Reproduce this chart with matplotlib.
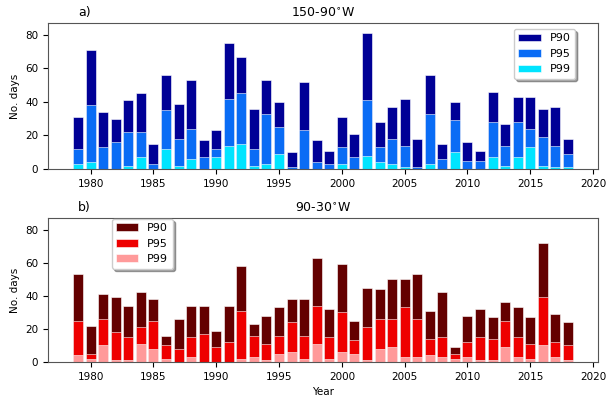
import matplotlib.pyplot as plt
import numpy as np

years = np.arange(1979, 2019)

# panel a) 150-90W
a_p90 = [31, 71, 34, 30, 41, 45, 15, 56, 39, 53, 17, 23, 75, 67, 36, 53, 40, 10, 52, 17,
         11, 31, 21, 81, 28, 37, 42, 18, 56, 15, 40, 16, 11, 46, 27, 43, 43, 36, 37, 18]
a_p95 = [12, 38, 13, 16, 22, 22, 3, 35, 18, 24, 7, 12, 42, 45, 12, 33, 25, 1, 23, 4,
         3, 13, 7, 41, 13, 18, 14, 1, 33, 6, 29, 5, 5, 28, 14, 28, 24, 19, 14, 9]
a_p99 = [3, 4, 0, 0, 2, 7, 0, 12, 2, 6, 0, 7, 14, 15, 2, 3, 9, 0, 0, 0,
         0, 3, 0, 8, 4, 3, 1, 0, 3, 0, 10, 0, 0, 7, 2, 7, 13, 2, 1, 1]

# panel b) 90-30W
b_p90 = [53, 22, 41, 39, 34, 42, 38, 16, 26, 34, 34, 19, 34, 58, 23, 28, 33, 38, 38, 63,
         32, 59, 25, 45, 44, 50, 50, 53, 31, 42, 9, 28, 32, 27, 36, 33, 27, 72, 29, 24]
b_p95 = [25, 5, 26, 18, 15, 21, 25, 10, 8, 15, 17, 9, 12, 31, 16, 11, 16, 24, 16, 34,
         15, 30, 13, 21, 26, 26, 33, 26, 14, 15, 5, 12, 15, 14, 25, 15, 11, 39, 12, 10]
b_p99 = [4, 2, 10, 1, 1, 11, 8, 2, 0, 3, 0, 0, 0, 2, 3, 1, 5, 6, 2, 11,
         2, 6, 5, 1, 8, 9, 3, 3, 4, 3, 2, 3, 1, 1, 9, 3, 2, 10, 3, 1]

plt.rcParams['font.size'] = 7.5

fig = plt.figure(figsize=(6.08, 3.97), dpi=100)
ax1 = fig.add_axes([48/608, 1 - 169/397, 550/608, 146/397])
ax2 = fig.add_axes([48/608, 1 - 362/397, 550/608, 144/397])

def draw(ax, p90, p95, p99, colors, title, tag):
    ax.bar(years, p90, 0.8, color=colors[0], edgecolor='white', linewidth=0.4, label='P90')
    ax.bar(years, p95, 0.8, color=colors[1], edgecolor='white', linewidth=0.4, label='P95')
    ax.bar(years, p99, 0.8, color=colors[2], edgecolor='white', linewidth=0.4, label='P99')
    ax.set_ylim(0, 87)
    ax.set_yticks([0, 20, 40, 60, 80])
    ax.set_xticks(range(1980, 2021, 5))
    ax.set_ylabel('No. days')
    ax.set_title(title, fontsize=9, pad=4)
    ax.text(0.055, 1.025, tag, transform=ax.transAxes, fontsize=9, va='bottom')
    for s in ax.spines.values():
        s.set_color('#555555')

draw(ax1, a_p90, a_p95, a_p99, ['#000096', '#0a6cf5', '#00e4ff'], '150-90$^{\\circ}$W', 'a)')
draw(ax2, b_p90, b_p95, b_p99, ['#640000', '#ee0000', '#ff9a9a'], '90-30$^{\\circ}$W', 'b)')
ax2.set_xlabel('Year')

ax1.legend(loc='upper right', bbox_to_anchor=(0.958, 0.96), borderaxespad=0, shadow=True,
           fontsize=8)
ax2.legend(loc='upper left', bbox_to_anchor=(0.116, 0.995), borderaxespad=0, shadow=True,
           fontsize=8)

fig.savefig('out.png', dpi=100)
